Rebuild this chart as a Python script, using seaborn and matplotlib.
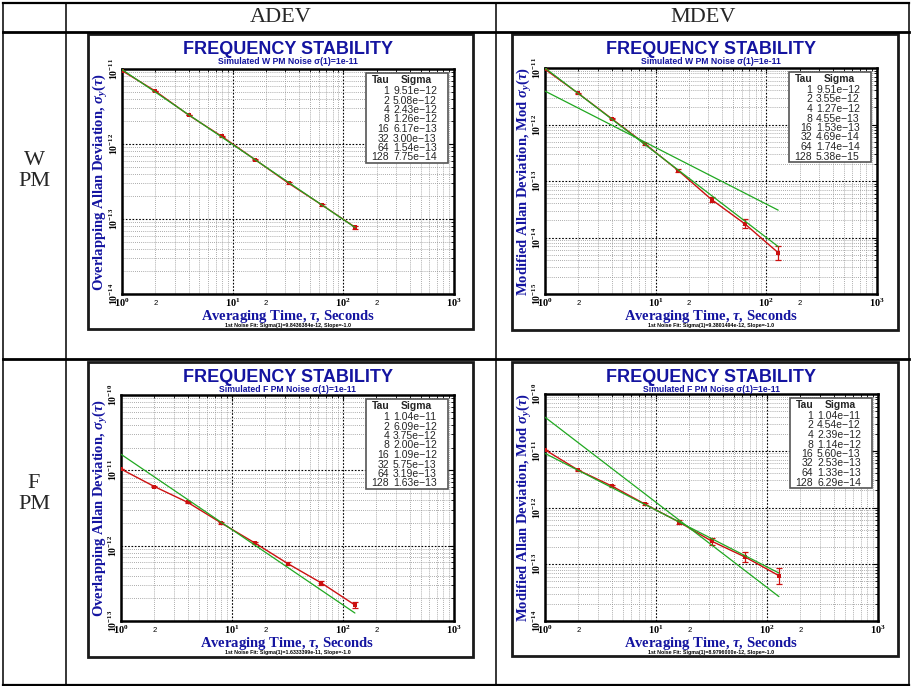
import matplotlib
matplotlib.use("Agg")
import numpy as np
import pandas as pd
import seaborn as sns
import matplotlib.pyplot as plt
from matplotlib.patches import Rectangle
from matplotlib.lines import Line2D
from matplotlib.ticker import FixedLocator, FixedFormatter

# ---------------- data ----------------
tau = [1, 2, 4, 8, 16, 32, 64, 128]
wpm_adev = [9.51e-12, 5.08e-12, 2.43e-12, 1.26e-12, 6.17e-13, 3.00e-13, 1.54e-13, 7.75e-14]
wpm_mdev = [9.51e-12, 3.55e-12, 1.27e-12, 4.55e-13, 1.53e-13, 4.69e-14, 1.74e-14, 5.38e-15]
fpm_adev = [1.04e-11, 6.09e-12, 3.75e-12, 2.00e-12, 1.09e-12, 5.75e-13, 3.19e-13, 1.63e-13]
fpm_mdev = [1.04e-11, 4.54e-12, 2.39e-12, 1.14e-12, 5.60e-13, 2.53e-13, 1.33e-13, 6.29e-14]
# error bar half-widths in decades
wpm_adev_err = [0, 0.004, 0.005, 0.006, 0.008, 0.01, 0.014, 0.02]
wpm_mdev_err = [0, 0.01, 0.015, 0.02, 0.03, 0.045, 0.08, 0.125]
fpm_adev_err = [0, 0.005, 0.008, 0.01, 0.015, 0.02, 0.027, 0.04]
fpm_mdev_err = [0, 0.01, 0.015, 0.02, 0.035, 0.06, 0.09, 0.14]
# noise fits: (sigma(1), slope)
wpm_adev_fits = [(9.8436384e-12, -1.0)]
wpm_mdev_fits = [(1.0e-11, -1.5), (3.9e-12, -1.0)]
fpm_adev_fits = [(1.6333e-11, -1.0)]
fpm_mdev_fits = [(3.9e-11, -1.5), (8.9796e-12, -1.0)]
col_headers = ["ADEV", "MDEV"]
row_headers = ["W\nPM", "F\nPM"]
subtitles = ["Simulated W PM Noise \u03c3(1)=1e-11", "Simulated F PM Noise \u03c3(1)=1e-11"]
ylabels = ["Overlapping Allan Deviation, $\\sigma_y(\\tau)$",
           "Modified Allan Deviation, Mod $\\sigma_y(\\tau)$"]
footnotes = ["1st Noise Fit: Sigma(1)=9.8436384e-12, Slope=-1.0",
             "1st Noise Fit: Sigma(1)=9.3801494e-12, Slope=-1.0",
             "1st Noise Fit: Sigma(1)=1.6333399e-11, Slope=-1.0",
             "1st Noise Fit: Sigma(1)=8.9796000e-12, Slope=-1.0"]

# ---------------- style ----------------
W, H = 913, 686
sns.set_theme(style="white")
plt.rcParams["font.family"] = ["Liberation Sans", "DejaVu Sans"]
plt.rcParams["mathtext.fontset"] = "custom"
plt.rcParams["mathtext.rm"] = "Liberation Serif:bold"
plt.rcParams["mathtext.it"] = "Liberation Serif:italic:bold"
plt.rcParams["mathtext.bf"] = "Liberation Serif:bold"
plt.rcParams["axes.unicode_minus"] = True

RED = "#CC1010"
GREEN = "#20A820"
BLUE = "#1414A0"

fig = plt.figure(figsize=(W / 100, H / 100), dpi=100)
fig.patch.set_facecolor("white")


def box(x0, y0, x1, y1):
    return [x0 / W, 1 - y1 / H, (x1 - x0) / W, (y1 - y0) / H]


def fline(x0, y0, x1, y1, lw):
    fig.add_artist(Line2D([x0 / W, x1 / W], [1 - y0 / H, 1 - y1 / H], color="black",
                          lw=lw, transform=fig.transFigure, solid_capstyle="projecting"))


def ftext(x, y, s, **kw):
    fig.text(x / W, 1 - y / H, s, **kw)


# table grid
fline(3, 3, 909, 3, 1.6)
fline(3, 32, 909, 32, 2.0)
fline(3, 359, 909, 359, 2.0)
fline(3, 685, 909, 685, 1.6)
for xv in [3, 66, 496, 909]:
    fline(xv, 3, xv, 685, 1.1)

ftext(281, 18, col_headers[0], fontfamily="Liberation Serif", fontsize=16, ha="center", va="center")
ftext(703, 18, col_headers[1], fontfamily="Liberation Serif", fontsize=16, ha="center", va="center")
ftext(34, 171, row_headers[0], fontfamily="Liberation Serif", fontsize=16, ha="center", va="center", linespacing=1.1)
ftext(34, 494, row_headers[1], fontfamily="Liberation Serif", fontsize=16, ha="center", va="center", linespacing=1.1)


def draw_panel(frame, axb, ylim, sig, err, fits, ylabel, subtitle, footnote):
    fx0, fy0, fx1, fy1 = frame
    fig.add_artist(Rectangle((fx0 / W, 1 - fy1 / H), (fx1 - fx0) / W, (fy1 - fy0) / H,
                             transform=fig.transFigure, fill=False, ec="#1a1a1a", lw=2.0))
    ax = fig.add_axes(box(*axb))
    ax.set_xscale("log")
    ax.set_yscale("log")
    ax.set_xlim(1, 1000)
    ax.set_ylim(*ylim)

    sig_a = np.array(sig)
    err_a = np.array(err)
    lo = sig_a - sig_a / 10 ** err_a
    hi = sig_a * 10 ** err_a - sig_a
    df = pd.DataFrame({"tau": tau, "sigma": sig})
    sns.lineplot(data=df, x="tau", y="sigma", ax=ax, color=RED, lw=1.0, marker="s",
                 markersize=3.5, markeredgewidth=0, estimator=None, errorbar=None, zorder=3)
    ax.errorbar(tau, sig, yerr=[lo, hi], fmt="none", ecolor=RED, elinewidth=0.9,
                capsize=2, capthick=0.9, zorder=3)
    for s1, slope in fits:
        tt = np.array([tau[0], tau[-1]], dtype=float)
        fdf = pd.DataFrame({"tau": tt, "fit": s1 * tt ** slope})
        sns.lineplot(data=fdf, x="tau", y="fit", ax=ax, color=GREEN, lw=0.9,
                     estimator=None, errorbar=None, zorder=4)
    ax.set_xlabel("")
    ax.set_ylabel("")

    # ticks
    ax.xaxis.set_major_locator(FixedLocator([1, 10, 100, 1000]))
    ax.xaxis.set_major_formatter(FixedFormatter(["$10^{0}$", "$10^{1}$", "$10^{2}$", "$10^{3}$"]))
    minors = [m * d for d in (1, 10, 100) for m in range(2, 10)]
    ax.xaxis.set_minor_locator(FixedLocator(minors))
    ax.xaxis.set_minor_formatter(FixedFormatter(["2" if str(int(v))[0] == "2" else "" for v in minors]))
    e0, e1 = int(round(np.log10(ylim[0]))), int(round(np.log10(ylim[1])))
    decs = list(range(e0, e1 + 1))
    ax.yaxis.set_major_locator(FixedLocator([10.0 ** d for d in decs]))
    ax.yaxis.set_major_formatter(FixedFormatter(["$10^{%d}$" % d for d in decs]))
    yminors = [m * 10.0 ** d for d in decs[:-1] for m in range(2, 10)]
    ax.yaxis.set_minor_locator(FixedLocator(yminors))
    ax.yaxis.set_minor_formatter(FixedFormatter([""] * len(yminors)))
    ax.tick_params(which="both", direction="in", top=True, right=True, colors="black")
    ax.tick_params(which="major", length=3.5, width=0.8)
    ax.tick_params(which="minor", length=2, width=0.6)
    ax.tick_params(axis="x", which="major", labelsize=7.5, pad=2)
    ax.tick_params(axis="x", which="minor", labelsize=5.5, pad=4)
    ax.tick_params(axis="y", which="major", labelsize=7, pad=1.5)
    for lab in ax.get_yticklabels():
        lab.set_rotation(90)
        lab.set_va("center")
    ax.grid(which="major", color="black", ls=(0, (1.5, 1.5)), lw=0.8)
    ax.grid(which="minor", color="#909090", ls=(0, (1, 1.5)), lw=0.6)
    for sp in ax.spines.values():
        sp.set_color("black")
        sp.set_linewidth(1.8)

    ax0, ay0, ax1, ay1 = axb
    cx = (ax0 + ax1) / 2
    ftext(cx, fy0 + 15, "FREQUENCY STABILITY", fontsize=13, fontweight="bold", color=BLUE,
          ha="center", va="center")
    ftext(cx, fy0 + 28, subtitle, fontsize=6.2, fontweight="bold", color=BLUE,
          ha="center", va="center")
    ftext(ax0 - 21, (ay0 + ay1) / 2, ylabel, fontfamily="Liberation Serif", fontsize=10.5,
          fontweight="bold", color=BLUE, rotation=90, ha="center", va="center")
    ftext(cx, ay1 + 22.5, "Averaging Time, $\\tau$, Seconds", fontfamily="Liberation Serif",
          fontsize=10.5, fontweight="bold", color=BLUE, ha="center", va="center")
    ftext(cx, ay1 + 31.5, footnote, fontsize=3.8, fontweight="bold", color="black",
          ha="center", va="center")

    # legend table
    lx1 = ax1 - 6
    lx0 = lx1 - 82
    ly0 = ay0 + 4
    fig.add_artist(Rectangle((lx0 / W, 1 - (ly0 + 90) / H), 82 / W, 90 / H,
                             transform=fig.transFigure, fc="white", ec="#555555", lw=1.2, zorder=5))
    ftext(lx0 + 15, ly0 + 7, "Tau", fontsize=7.5, fontweight="bold", ha="center", va="center", zorder=6)
    ftext(lx0 + 50, ly0 + 7, "Sigma", fontsize=7.5, fontweight="bold", ha="center", va="center", zorder=6)
    for i, (t, s) in enumerate(zip(tau, sig)):
        yy = ly0 + 18 + i * 9.5
        ftext(lx0 + 23, yy, str(t), fontsize=7.5, ha="right", va="center", zorder=6)
        ftext(lx0 + 27, yy, ("%.2e" % s).replace("-", "\u2212"), fontsize=7.5, ha="left",
              va="center", zorder=6)


draw_panel((88, 34, 473, 329), (122, 69, 454, 294), (1e-14, 1e-11), wpm_adev, wpm_adev_err,
           wpm_adev_fits, ylabels[0], subtitles[0], footnotes[0])
draw_panel((512, 34, 898, 330), (545, 68, 877, 294), (1e-15, 1e-11), wpm_mdev, wpm_mdev_err,
           wpm_mdev_fits, ylabels[1], subtitles[0], footnotes[1])
draw_panel((88, 362, 473, 657), (121, 395, 454, 621), (1e-13, 1e-10), fpm_adev, fpm_adev_err,
           fpm_adev_fits, ylabels[0], subtitles[1], footnotes[2])
draw_panel((512, 362, 898, 656), (545, 394, 878, 621), (1e-14, 1e-10), fpm_mdev, fpm_mdev_err,
           fpm_mdev_fits, ylabels[1], subtitles[1], footnotes[3])

fig.savefig("out.png", dpi=100, facecolor="white")
